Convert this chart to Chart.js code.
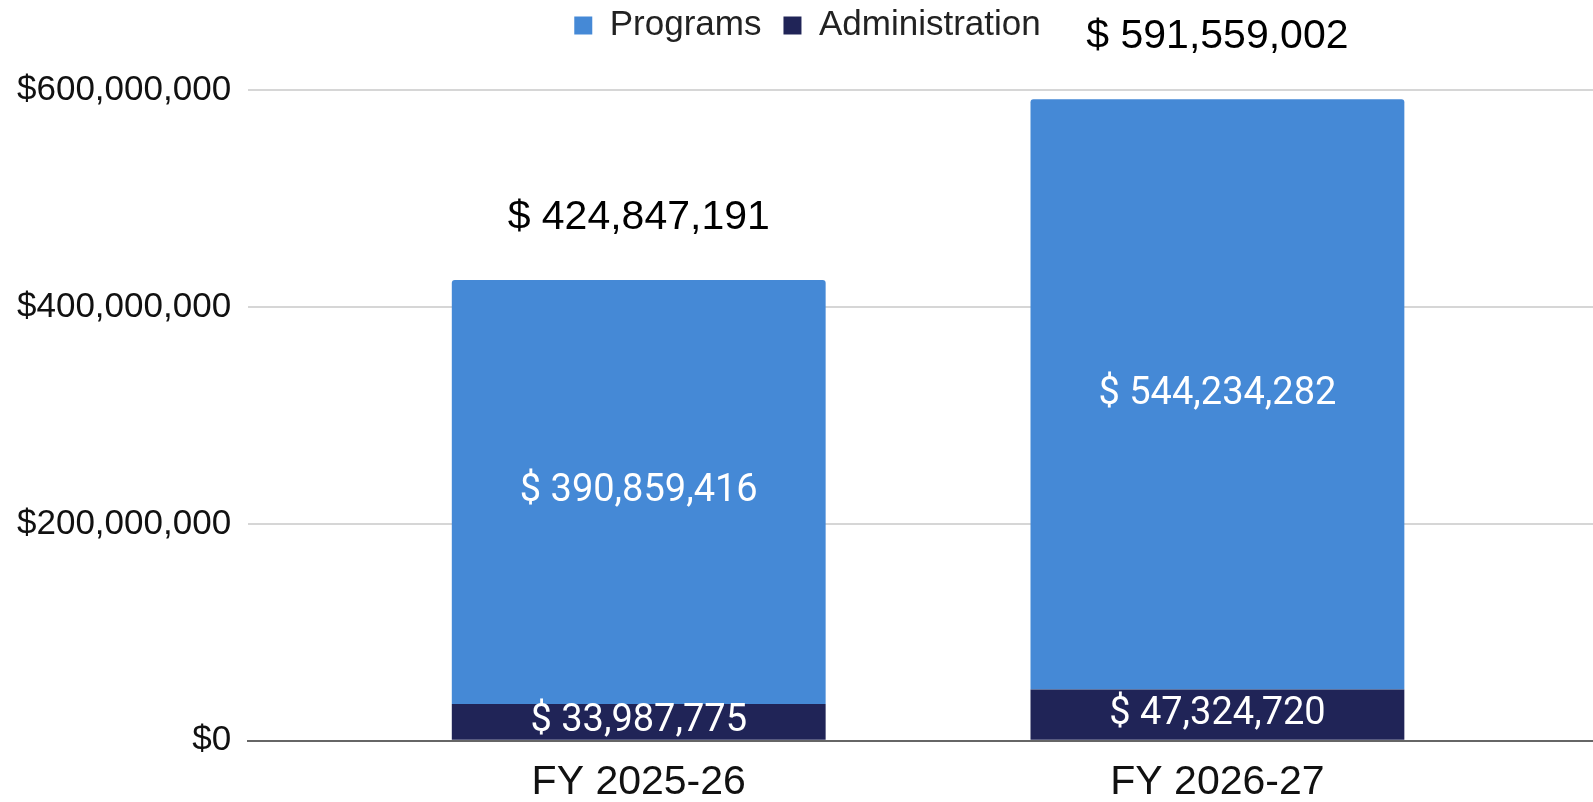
<!DOCTYPE html>
<html>
<head>
<meta charset="utf-8">
<script src="https://cdn.jsdelivr.net/npm/chart.js"></script>
<style>
  html, body { margin: 0; padding: 0; background: #fff; }
  #wrap { width: 1593px; height: 802px; }
</style>
</head>
<body>
<div id="wrap"><canvas id="budgetChart" width="1593" height="802"></canvas></div>
<script>
// Chart data
const categories = ['FY 2025-26', 'FY 2026-27'];
const programs = [390859416, 544234282];
const administration = [33987775, 47324720];
const yTicks = [0, 200000000, 400000000, 600000000];

const PROGRAMS_COLOR = '#4589d6';
const ADMIN_COLOR = '#202457';

function money(v, spaced) {
    return '$' + (spaced ? ' ' : '') + Math.round(v).toLocaleString('en-US');
}

// extra room under the legend, and nudge it a bit to the right
const legendTweak = {
    id: 'legendTweak',
    beforeInit(chart) {
        const legend = chart.legend;
        const origFit = legend.fit;
        legend.fit = function () {
            origFit.call(legend);
            this.height += 37;
        };
        const origDraw = legend.draw;
        legend.draw = function () {
            chart.ctx.save();
            chart.ctx.translate(11, 0);
            origDraw.call(legend);
            chart.ctx.restore();
        };
    }
};

// draws the value inside each segment and the total over each bar
const barLabels = {
    id: 'barLabels',
    afterDatasetsDraw(chart) {
        const ctx = chart.ctx;
        ctx.save();
        ctx.textAlign = 'center';
        ctx.textBaseline = 'middle';

        chart.data.datasets.forEach((ds, di) => {
            const meta = chart.getDatasetMeta(di);
            meta.data.forEach((bar, i) => {
                const mid = (bar.y + bar.base) / 2;
                ctx.font = '38px Roboto';
                ctx.fillStyle = '#ffffff';
                ctx.fillText(money(ds.data[i].y, true), bar.x, mid);
            });
        });

        // totals
        const topMeta = chart.getDatasetMeta(1);
        topMeta.data.forEach((bar, i) => {
            const total = programs[i] + administration[i];
            const txt = money(total, true);
            const y = bar.y - 62;
            ctx.font = '41px "Liberation Sans", Arial, sans-serif';
            ctx.lineJoin = 'round';
            ctx.lineWidth = 5;
            ctx.strokeStyle = '#ffffff';
            ctx.strokeText(txt, bar.x, y);
            ctx.fillStyle = '#000000';
            ctx.fillText(txt, bar.x, y);
        });
        ctx.restore();
    }
};

const ctx = document.getElementById('budgetChart').getContext('2d');
new Chart(ctx, {
    type: 'bar',
    data: {
        datasets: [
            {
                label: 'Administration',
                data: administration.map((v, i) => ({ x: i, y: v })),
                backgroundColor: ADMIN_COLOR,
                borderRadius: 0
            },
            {
                label: 'Programs',
                data: programs.map((v, i) => ({ x: i, y: v })),
                backgroundColor: PROGRAMS_COLOR,
                borderRadius: { topLeft: 3, topRight: 3 },
                borderSkipped: 'bottom'
            }
        ]
    },
    options: {
        responsive: false,
        animation: false,
        categoryPercentage: 1,
        barPercentage: 0.646,
        layout: { padding: { left: 0, right: 0, top: -14, bottom: -22 } },
        plugins: {
            tooltip: { enabled: false },
            legend: {
                position: 'top',
                reverse: true,
                labels: {
                    font: { family: '"Liberation Sans", Arial, sans-serif', size: 35 },
                    color: '#222',
                    boxWidth: 18,
                    boxHeight: 18,
                    padding: 22
                }
            }
        },
        scales: {
            x: {
                type: 'linear',
                stacked: true,
                offset: false,
                min: -0.675,
                max: 1.649,
                afterBuildTicks: scale => {
                    scale.ticks = categories.map((c, i) => ({ value: i }));
                },
                ticks: {
                    callback: v => categories[v] ?? '',
                    font: { family: '"Liberation Sans", Arial, sans-serif', size: 41 },
                    color: '#111',
                    padding: 17,
                    maxRotation: 0
                },
                grid: { display: false, drawTicks: false },
                border: { display: true, color: '#666', width: 2 }
            },
            y: {
                stacked: true,
                min: 0,
                max: 600000000,
                afterBuildTicks: scale => {
                    scale.ticks = yTicks.map(v => ({ value: v }));
                },
                ticks: {
                    callback: v => money(v, false),
                    font: { family: '"Liberation Sans", Arial, sans-serif', size: 35 },
                    color: '#111',
                    padding: 17
                },
                grid: { color: '#d6d6d6', lineWidth: 2, drawTicks: false },
                border: { display: false }
            }
        }
    },
    plugins: [legendTweak, barLabels]
});
</script>
</body>
</html>
